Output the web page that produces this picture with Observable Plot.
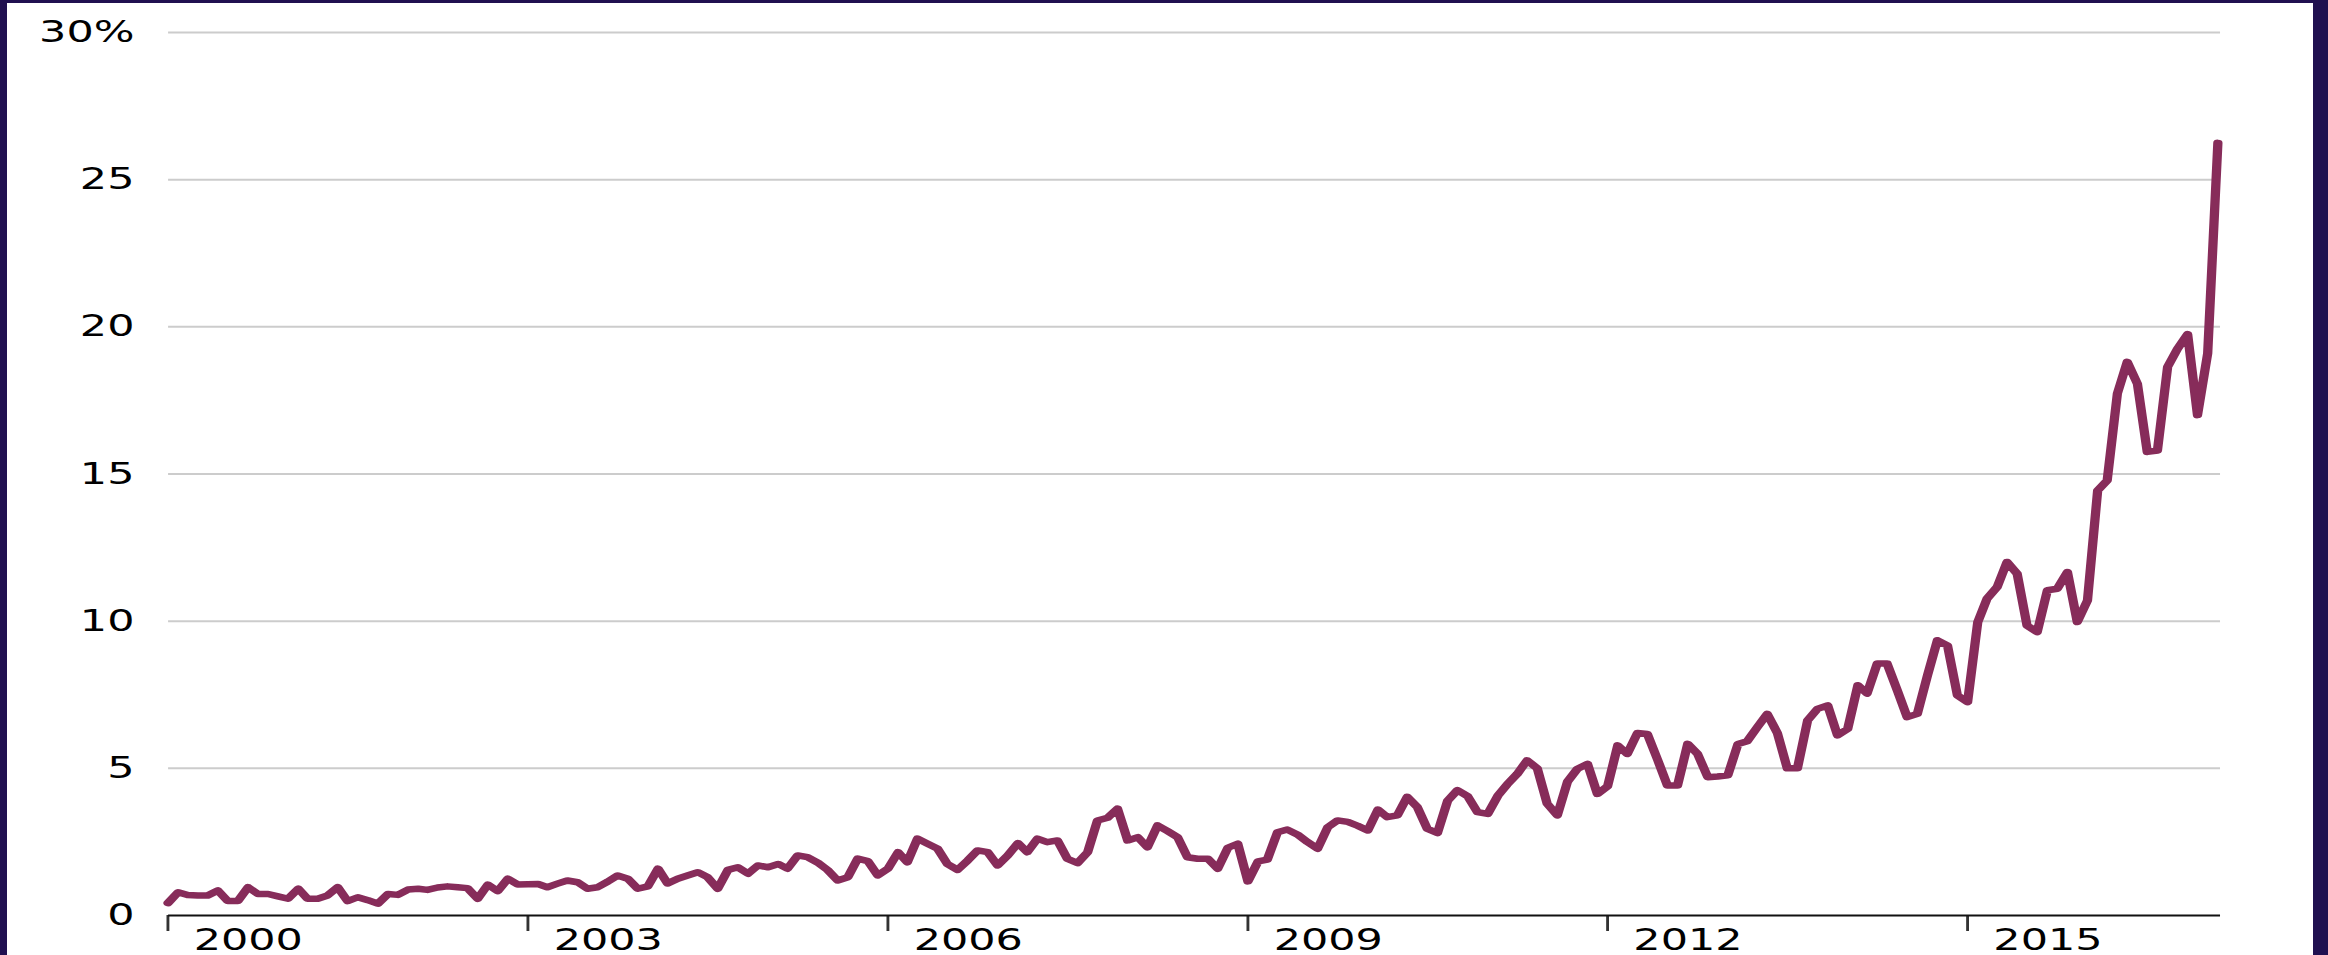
<!DOCTYPE html>
<html>
<head>
<meta charset="utf-8">
<script src="https://cdn.jsdelivr.net/npm/d3@7"></script>
<script src="https://cdn.jsdelivr.net/npm/@observablehq/plot@0.6"></script>
<style>
  html, body { margin: 0; padding: 0; background: #201050; width: 2328px; height: 955px; overflow: hidden; }
  #frame { position: absolute; left: 7px; top: 3px; width: 2306px; height: 952px; background: #ffffff; }
  #frame svg { display: block; }
</style>
</head>
<body>
<div id="frame"></div>
<script>
// Monthly series, Jan 2000 .. Feb 2017 (percent)
const firstMonth = "2000-01-01";
const shares = [
  0.42, 0.79, 0.70, 0.68, 0.68, 0.85, 0.49, 0.49, 0.96, 0.73, 0.73, 0.65,
  0.57, 0.91, 0.57, 0.57, 0.68, 0.96, 0.49, 0.62, 0.52, 0.40, 0.73, 0.70,
  0.88, 0.91, 0.87, 0.95, 0.99, 0.96, 0.93, 0.57, 1.05, 0.83, 1.25, 1.05,
  1.06, 1.07, 0.96, 1.08, 1.19, 1.13, 0.91, 0.96, 1.15, 1.36, 1.25, 0.91,
  0.99, 1.59, 1.09, 1.25, 1.36, 1.47, 1.30, 0.91, 1.55, 1.64, 1.42, 1.70,
  1.64, 1.75, 1.59, 2.04, 1.98, 1.80, 1.55, 1.19, 1.30, 1.93, 1.85, 1.36,
  1.59, 2.15, 1.81, 2.61, 2.44, 2.27, 1.75, 1.55, 1.87, 2.21, 2.15, 1.70,
  2.04, 2.46, 2.15, 2.61, 2.49, 2.55, 1.93, 1.78, 2.15, 3.23, 3.32, 3.63,
  2.55, 2.66, 2.32, 3.06, 2.87, 2.66, 1.98, 1.93, 1.93, 1.59, 2.30, 2.44,
  1.16, 1.84, 1.90, 2.83, 2.92, 2.75, 2.50, 2.27, 3.00, 3.23, 3.18, 3.05,
  2.89, 3.60, 3.34, 3.40, 4.03, 3.68, 2.95, 2.80, 3.90, 4.26, 4.05, 3.51,
  3.45, 4.07, 4.45, 4.81, 5.27, 5.00, 3.80, 3.40, 4.55, 4.98, 5.15, 4.13,
  4.39, 5.78, 5.49, 6.20, 6.17, 5.30, 4.42, 4.42, 5.83, 5.49, 4.70, 4.72,
  4.76, 5.83, 5.92, 6.40, 6.85, 6.20, 5.00, 5.00, 6.63, 7.02, 7.14, 6.12,
  6.34, 7.82, 7.54, 8.56, 8.56, 7.65, 6.74, 6.85, 8.16, 9.35, 9.17, 7.48,
  7.25, 9.97, 10.76, 11.16, 12.01, 11.61, 9.85, 9.63, 11.05, 11.10, 11.67, 9.97,
  10.70, 14.44, 14.78, 17.73, 18.81, 18.07, 15.75, 15.80, 18.64, 19.25, 19.75, 17.00,
  19.10, 26.25
];
const yearTicks = [2000, 2003, 2006, 2009, 2012, 2015];
const yTicks = [0, 5, 10, 15, 20, 25, 30];
const lineColor = "#872c5a";
const gridColor = "#cccccc";

const start = new Date(firstMonth + "T00:00:00Z");
const data = shares.map((v, i) => ({ date: d3.utcMonth.offset(start, i), value: v }));
const xEnd = data[data.length - 1].date;
const tickDates = yearTicks.map(y => new Date(Date.UTC(y, 0, 1)));

const W0 = 1612, H = 952;           // drawing units, stretched horizontally to 2306px
const font = "'DejaVu Sans', Verdana, sans-serif";

const chart = Plot.plot({
  width: W0,
  height: H,
  marginLeft: 112.6,
  marginRight: 65,
  marginTop: 29,
  marginBottom: 40,
  style: { fontFamily: font, fontSize: "30px", color: "#000", background: "transparent", overflow: "visible" },
  x: { type: "utc", domain: [start, xEnd], range: [112, 1545], label: null },
  y: { domain: [0, 30], label: null },
  marks: [
    Plot.ruleY(yTicks.filter(d => d > 0), { stroke: gridColor, strokeWidth: 2 }),
    Plot.axisY({ ticks: yTicks, tickSize: 0, tickPadding: 24, fontSize: 30, fill: "#000",
                 tickFormat: d => d === 30 ? "30%" : String(d), label: null }),
    // tick marks
    Plot.axisX({ ticks: tickDates, tickSize: 16, stroke: "#333", strokeWidth: 2,
                 tickFormat: () => "", label: null }),
    // tick labels, set to the right of each tick
    Plot.axisX({ ticks: tickDates, tickSize: 0, tickPadding: 13, fontSize: 30,
                 textAnchor: "start", dx: 18, fill: "#000",
                 tickFormat: d3.utcFormat("%Y"), label: null }),
    Plot.ruleY([0], { stroke: "#111", strokeWidth: 2.2 }),
    Plot.line(data, { x: "date", y: "value", stroke: lineColor, strokeWidth: 6.5 })
  ]
});

chart.setAttribute("viewBox", `0 0 ${W0} ${H}`);
chart.setAttribute("preserveAspectRatio", "none");
chart.setAttribute("width", 2306);
chart.setAttribute("height", H);
chart.style.maxWidth = "none";
chart.style.width = "2306px";
chart.style.height = H + "px";
document.getElementById("frame").appendChild(chart);
</script>
</body>
</html>
